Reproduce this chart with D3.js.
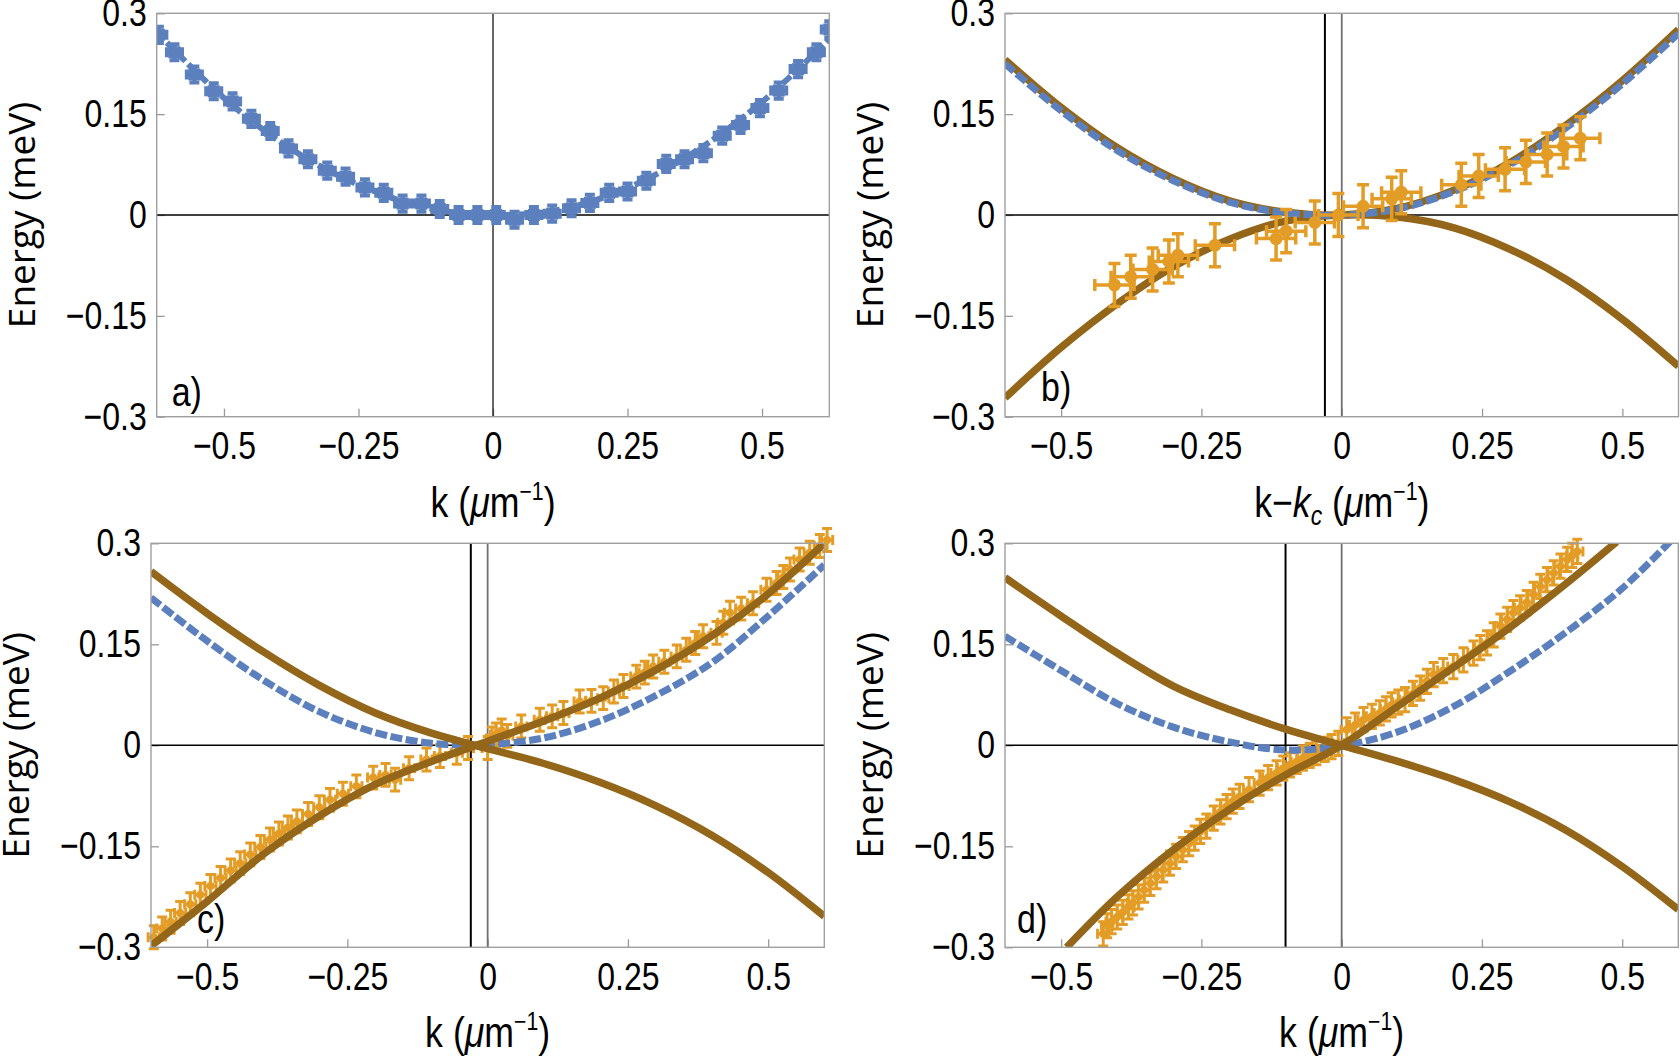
<!DOCTYPE html>
<html>
<head>
<meta charset="utf-8">
<script src="https://cdn.jsdelivr.net/npm/d3@7"></script>
<style>
body { margin: 0; background: #fff; }
.tick text { font-family: "Liberation Sans", Arial, sans-serif; font-size: 39px; fill: #000; }
.tick line { stroke: #9a9a9a; stroke-width: 1.3; }
.xlab, .plab { font-family: "Liberation Sans", Arial, sans-serif; fill: #000; }
.ylab { font-family: "Open Sans", sans-serif; font-size: 37px; fill: #000; }
</style>
</head>
<body>
<svg id="chart" width="1680" height="1056"></svg>
<script>
// tick values
var kTicks = [-0.5, -0.25, 0, 0.25, 0.5];
var eTicks = [-0.3, -0.15, 0, 0.15, 0.3];

// panel a: measured points [k, E] and dashed fit
var aPoints = [[-0.621,0.268],[-0.592,0.242],[-0.555,0.209],[-0.519,0.184],[-0.484,0.169],[-0.449,0.143],
  [-0.414,0.125],[-0.380,0.099],[-0.344,0.083],[-0.308,0.066],[-0.274,0.057],[-0.238,0.041],[-0.203,0.033],
  [-0.168,0.017],[-0.133,0.017],[-0.099,0.009],[-0.064,0.000],[-0.029,0.000],[0.006,0.000],[0.040,-0.007],
  [0.076,0.000],[0.110,0.002],[0.146,0.010],[0.180,0.018],[0.216,0.033],[0.250,0.035],[0.285,0.051],
  [0.322,0.076],[0.356,0.083],[0.391,0.092],[0.426,0.118],[0.460,0.134],[0.496,0.159],[0.531,0.185],
  [0.567,0.217],[0.601,0.242],[0.625,0.276]];
var aFit = [[-0.625,0.272],[-0.5,0.174],[-0.375,0.098],[-0.25,0.045],[-0.125,0.011],[0,0.000],
  [0.125,0.008],[0.25,0.040],[0.375,0.094],[0.5,0.168],[0.625,0.262]];

// panel b
var bBlue = [[-0.6,0.225],[-0.5,0.155],[-0.4,0.096],[-0.3,0.051],[-0.2,0.019],[-0.1,0.003],[0,0.000],
  [0.1,0.009],[0.2,0.035],[0.3,0.075],[0.4,0.130],[0.5,0.195],[0.6,0.270]];
var bBrownUp = [[-0.6,0.231],[-0.5,0.160],[-0.4,0.100],[-0.3,0.054],[-0.2,0.021],[-0.1,0.004],[0,0.000],
  [0.1,0.010],[0.2,0.037],[0.3,0.078],[0.4,0.134],[0.5,0.200],[0.6,0.276]];
var bBrownDown = [[-0.6,-0.272],[-0.5,-0.197],[-0.4,-0.132],[-0.3,-0.077],[-0.2,-0.036],[-0.1,-0.009],[0,0.000],
  [0.1,-0.003],[0.2,-0.019],[0.3,-0.051],[0.4,-0.096],[0.5,-0.155],[0.6,-0.225]];
var bPoints = [[-0.405,-0.104],[-0.376,-0.092],[-0.337,-0.081],[-0.308,-0.069],[-0.292,-0.060],[-0.226,-0.045],
  [-0.117,-0.035],[-0.099,-0.024],[-0.048,-0.011],[-0.006,0.000],[0.038,0.013],[0.089,0.024],[0.106,0.034],
  [0.213,0.045],[0.244,0.058],[0.291,0.068],[0.328,0.079],[0.366,0.090],[0.395,0.102],[0.425,0.114]];

// panel c
var cBlue = [[-0.6,0.219],[-0.5,0.155],[-0.4,0.097],[-0.3,0.050],[-0.2,0.019],[-0.1,0.003],[0,0.001],
  [0.1,0.011],[0.2,0.036],[0.3,0.074],[0.4,0.123],[0.5,0.192],[0.6,0.268]];
var cBrownDown = [[-0.6,0.258],[-0.5,0.196],[-0.4,0.139],[-0.3,0.089],[-0.2,0.048],[-0.1,0.018],[0,-0.005],
  [0.1,-0.027],[0.2,-0.055],[0.3,-0.090],[0.4,-0.134],[0.5,-0.189],[0.6,-0.254]];
var cBrownUp = [[-0.6,-0.298],[-0.5,-0.232],[-0.4,-0.162],[-0.3,-0.105],[-0.2,-0.058],[-0.1,-0.024],[0,0.006],
  [0.1,0.036],[0.2,0.070],[0.3,0.112],[0.4,0.163],[0.5,0.225],[0.6,0.300]];
var cPoints = [[-0.595,-0.285],[-0.580,-0.272],[-0.565,-0.262],[-0.548,-0.249],[-0.530,-0.236],[-0.512,-0.222],
  [-0.494,-0.209],[-0.476,-0.197],[-0.458,-0.186],[-0.441,-0.175],[-0.423,-0.162],[-0.405,-0.151],[-0.388,-0.140],
  [-0.372,-0.131],[-0.356,-0.122],[-0.340,-0.113],[-0.320,-0.102],[-0.300,-0.092],[-0.281,-0.081],[-0.258,-0.072],
  [-0.234,-0.061],[-0.204,-0.048],[-0.182,-0.044],[-0.165,-0.051],[-0.140,-0.034],[-0.109,-0.021],[-0.085,-0.016],
  [-0.055,-0.011],[-0.035,-0.004],[0.000,-0.004],[0.008,0.010],[0.015,0.016],[0.025,0.022],[0.035,0.014],
  [0.060,0.028],[0.093,0.038],[0.115,0.043],[0.135,0.048],[0.164,0.065],[0.185,0.066],[0.206,0.070],[0.225,0.080],
  [0.242,0.088],[0.265,0.102],[0.280,0.108],[0.295,0.117],[0.315,0.124],[0.337,0.132],[0.354,0.142],[0.370,0.152],
  [0.384,0.162],[0.408,0.167],[0.420,0.182],[0.432,0.197],[0.452,0.203],[0.473,0.211],[0.497,0.231],[0.515,0.241],
  [0.527,0.250],[0.539,0.261],[0.556,0.276],[0.574,0.286],[0.592,0.296],[0.605,0.305]];

// panel d
var dBlue = [[-0.6,0.162],[-0.5,0.111],[-0.4,0.062],[-0.3,0.027],[-0.2,0.005],[-0.1,-0.007],[0,-0.001],
  [0.1,0.020],[0.2,0.058],[0.3,0.110],[0.4,0.168],[0.5,0.233],[0.6,0.315]];
var dBrownDown = [[-0.6,0.249],[-0.5,0.192],[-0.4,0.137],[-0.3,0.088],[-0.2,0.053],[-0.1,0.024],[0,0.000],
  [0.1,-0.024],[0.2,-0.051],[0.3,-0.084],[0.4,-0.126],[0.5,-0.180],[0.6,-0.244]];
var dBrownUp = [[-0.49,-0.300],[-0.4,-0.225],[-0.3,-0.155],[-0.2,-0.095],[-0.1,-0.044],[0,0.000],
  [0.1,0.058],[0.2,0.116],[0.3,0.175],[0.4,0.240],[0.49,0.302]];
var dPoints = [[-0.425,-0.280],[-0.418,-0.268],[-0.410,-0.262],[-0.400,-0.255],[-0.390,-0.248],[-0.380,-0.240],
  [-0.372,-0.234],[-0.362,-0.225],[-0.352,-0.215],[-0.341,-0.205],[-0.330,-0.195],[-0.318,-0.185],[-0.306,-0.175],
  [-0.295,-0.165],[-0.283,-0.155],[-0.272,-0.146],[-0.262,-0.138],[-0.252,-0.128],[-0.241,-0.120],[-0.228,-0.108],
  [-0.216,-0.099],[-0.205,-0.091],[-0.194,-0.083],[-0.182,-0.076],[-0.165,-0.066],[-0.146,-0.056],[-0.131,-0.048],
  [-0.116,-0.041],[-0.104,-0.034],[-0.092,-0.029],[-0.080,-0.024],[-0.069,-0.019],[-0.057,-0.015],[-0.045,-0.011],
  [-0.030,-0.006],[-0.018,-0.002],[-0.006,0.003],[0.009,0.023],[0.024,0.030],[0.039,0.038],[0.054,0.043],
  [0.068,0.048],[0.079,0.054],[0.089,0.060],[0.101,0.064],[0.113,0.068],[0.127,0.077],[0.140,0.085],[0.152,0.095],
  [0.164,0.105],[0.181,0.111],[0.199,0.117],[0.217,0.127],[0.235,0.137],[0.247,0.145],[0.259,0.152],[0.271,0.164],
  [0.283,0.177],[0.295,0.187],[0.306,0.197],[0.318,0.204],[0.330,0.212],[0.342,0.224],[0.354,0.236],[0.366,0.246],
  [0.378,0.256],[0.390,0.266],[0.402,0.276],[0.411,0.282],[0.420,0.288]];

var blue = "#5b80bd", orange = "#e39c25", brown = "#93661a";
var narrow = 0.82; // horizontal squeeze to get the condensed look of the labels

var svg = d3.select("#chart");
var fmt = d3.format("");

var panels = [
  {name: "a)", left: 156.7, top: 13.3, w: 672.6, h: 403.4, kMax: 0.625, kc: null, xlab: "k", labX: 15, labY: 11,
    clipPts: true, ptsOnTop: true},
  {name: "b)", left: 1005, top: 13.3, w: 673.5, h: 403.4, kMax: 0.6, kc: -0.03, xlab: "kkc", labX: 36, labY: 16,
    clipPts: false, ptsOnTop: true},
  {name: "c)", left: 151, top: 543.3, w: 673.3, h: 404, kMax: 0.6, kc: -0.03, xlab: "k", labX: 46, labY: 14,
    clipPts: false, ptsOnTop: false},
  {name: "d)", left: 1005, top: 543.3, w: 673.3, h: 404, kMax: 0.6, kc: -0.1, xlab: "k", labX: 12, labY: 14,
    clipPts: false, ptsOnTop: false}
];

// which series go where
panels[0].curves = [{data: aFit, color: blue, dash: "11,4", width: 6}];
panels[0].points = {data: aPoints, color: blue, xErr: 0.014, yErr: 0.012, cap: 5, sw: 4, marker: "square", r: 6};
panels[1].curves = [{data: bBrownUp, color: brown, width: 7.5}, {data: bBrownDown, color: brown, width: 7.5},
  {data: bBlue, color: blue, dash: "12,3.5", width: 7}];
panels[1].points = {data: bPoints, color: orange, xErr: 0.035, yErr: 0.032, cap: 6, sw: 3.5, marker: "circle", r: 6.5};
panels[2].curves = [{data: cBlue, color: blue, dash: "12,3.5", width: 7}, {data: cBrownDown, color: brown, width: 7.5},
  {data: cBrownUp, color: brown, width: 7.5}];
panels[2].points = {data: cPoints, color: orange, xErr: 0.010, yErr: 0.017, cap: 5, sw: 3, marker: "circle", r: 4};
panels[3].curves = [{data: dBlue, color: blue, dash: "12,3.5", width: 7}, {data: dBrownDown, color: brown, width: 7.5},
  {data: dBrownUp, color: brown, width: 7.5}];
panels[3].points = {data: dPoints, color: orange, xErr: 0.010, yErr: 0.018, cap: 5, sw: 3, marker: "circle", r: 4};

function drawPoints(g, x, y, s) {
  var pg = g.append("g");
  var pt = pg.selectAll("g").data(s.data).enter().append("g");
  pt.append("path")
    .attr("fill", "none")
    .attr("stroke", s.color)
    .attr("stroke-width", s.sw)
    .attr("d", function(d) {
      var cx = x(d[0]), cy = y(d[1]);
      var y0 = y(d[1] - s.yErr), y1 = y(d[1] + s.yErr);
      var x0 = x(d[0] - s.xErr), x1 = x(d[0] + s.xErr);
      var p = d3.path();
      p.moveTo(cx, y0); p.lineTo(cx, y1);
      p.moveTo(cx - s.cap, y0); p.lineTo(cx + s.cap, y0);
      p.moveTo(cx - s.cap, y1); p.lineTo(cx + s.cap, y1);
      p.moveTo(x0, cy); p.lineTo(x1, cy);
      p.moveTo(x0, cy - s.cap); p.lineTo(x0, cy + s.cap);
      p.moveTo(x1, cy - s.cap); p.lineTo(x1, cy + s.cap);
      return p.toString();
    });
  if (s.marker === "square") {
    pt.append("rect")
      .attr("x", function(d) { return x(d[0]) - s.r; })
      .attr("y", function(d) { return y(d[1]) - s.r; })
      .attr("width", 2 * s.r).attr("height", 2 * s.r)
      .attr("fill", s.color);
  } else {
    pt.append("circle")
      .attr("cx", function(d) { return x(d[0]); })
      .attr("cy", function(d) { return y(d[1]); })
      .attr("r", s.r)
      .attr("fill", s.color);
  }
  return pg;
}

panels.forEach(function(p, i) {
  var g = svg.append("g").attr("transform", "translate(" + p.left + "," + p.top + ")");
  var x = d3.scaleLinear().domain([-p.kMax, p.kMax]).range([0, p.w]);
  var y = d3.scaleLinear().domain([-0.3, 0.3]).range([p.h, 0]);

  var clipId = "clip" + i;
  g.append("clipPath").attr("id", clipId)
    .append("rect").attr("width", p.w).attr("height", p.h);

  // axes with inward ticks
  g.append("g")
    .attr("transform", "translate(0," + p.h + ")")
    .call(d3.axisBottom(x).tickValues(kTicks).tickSize(-8).tickPadding(15).tickFormat(fmt))
    .call(function(a) {
      a.select(".domain").remove();
      a.selectAll("text").attr("transform", "scale(" + narrow + ",1)");
    });
  g.append("g")
    .call(d3.axisLeft(y).tickValues(eTicks).tickSize(-8).tickPadding(10).tickFormat(fmt))
    .call(function(a) {
      a.select(".domain").remove();
      a.selectAll("text").attr("x", -10 / narrow).attr("transform", "scale(" + narrow + ",1)");
    });

  // zero lines
  g.append("line").attr("x1", 0).attr("x2", p.w).attr("y1", y(0)).attr("y2", y(0))
    .attr("stroke", "#000").attr("stroke-width", 1.5);
  g.append("line").attr("x1", x(0)).attr("x2", x(0)).attr("y1", 0).attr("y2", p.h)
    .attr("stroke", p.kc === null ? "#000" : "#707070").attr("stroke-width", p.kc === null ? 1.2 : 1.8);
  if (p.kc !== null) {
    g.append("line").attr("x1", x(p.kc)).attr("x2", x(p.kc)).attr("y1", 0).attr("y2", p.h)
      .attr("stroke", "#000").attr("stroke-width", 2);
  }

  var line = d3.line()
    .x(function(d) { return x(d[0]); })
    .y(function(d) { return y(d[1]); })
    .curve(d3.curveCatmullRom.alpha(0.5));

  var curveG = g.append("g").attr("clip-path", "url(#" + clipId + ")");
  p.curves.forEach(function(c) {
    curveG.append("path")
      .datum(c.data)
      .attr("d", line)
      .attr("fill", "none")
      .attr("stroke", c.color)
      .attr("stroke-width", c.width)
      .attr("stroke-dasharray", c.dash || null);
  });

  var pg = drawPoints(g, x, y, p.points);
  if (p.clipPts) pg.attr("clip-path", "url(#" + clipId + ")");
  if (!p.ptsOnTop) {
    // orange data under the curves but above the reference lines
    g.node().insertBefore(pg.node(), curveG.node());
  }

  // frame
  g.append("rect").attr("width", p.w).attr("height", p.h)
    .attr("fill", "none").attr("stroke", "#9f9f9f").attr("stroke-width", 1.4);

  // panel letter
  g.append("text").attr("class", "plab")
    .attr("transform", "translate(" + p.labX + "," + (p.h - p.labY) + ") scale(0.85,1)")
    .attr("font-size", 40)
    .text(p.name);

  // y label
  g.append("text").attr("class", "ylab")
    .attr("transform", "translate(-122," + (p.h / 2) + ") rotate(-90)")
    .attr("text-anchor", "middle")
    .text("Energy (meV)");

  // x label
  var xl = g.append("text").attr("class", "xlab")
    .attr("transform", "translate(" + (p.w / 2) + "," + (p.h + 100) + ") scale(0.85,1)")
    .attr("text-anchor", "middle")
    .attr("font-size", 42);
  if (p.xlab === "kkc") {
    xl.append("tspan").text("k\u2212");
    xl.append("tspan").attr("font-style", "italic").text("k");
    xl.append("tspan").attr("font-style", "italic").attr("font-size", 27).attr("dy", 8).text("c");
    xl.append("tspan").attr("dy", -8).text(" (");
  } else {
    xl.append("tspan").text("k (");
  }
  xl.append("tspan").attr("font-style", "italic").text("\u03bc");
  xl.append("tspan").text("m");
  xl.append("tspan").attr("font-size", 25).attr("dy", -17).text("\u22121");
  xl.append("tspan").attr("dy", 17).text(")");
});
</script>
</body>
</html>
